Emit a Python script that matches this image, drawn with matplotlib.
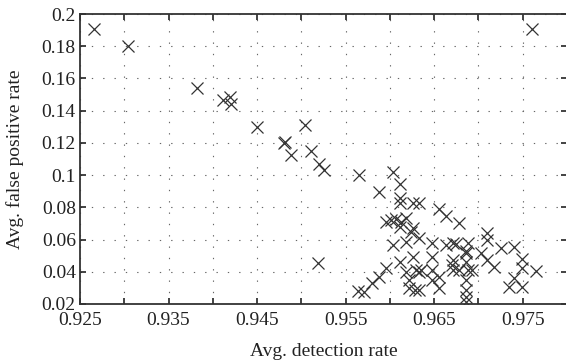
import numpy as np
import matplotlib
matplotlib.use("Agg")
import matplotlib.pyplot as plt
from matplotlib.ticker import FixedLocator, FixedFormatter

plt.rcParams["font.family"] = ["Liberation Serif", "DejaVu Serif"]

# avg. detection rate / avg. false positive rate
det_rate = [
    0.9266, 0.9304, 0.9382, 0.9412, 0.9419, 0.9420, 0.9450, 0.9480, 0.9481,
    0.9488, 0.9504, 0.9511, 0.9520, 0.9526, 0.9565, 0.9760, 0.9603, 0.9611,
    0.9588, 0.9611, 0.9611, 0.9626, 0.9633, 0.9596, 0.9601, 0.9607, 0.9613,
    0.9618, 0.9611, 0.9626, 0.9656, 0.9663, 0.9678, 0.9624, 0.9618, 0.9633,
    0.9603, 0.9648, 0.9663, 0.9671, 0.9675, 0.9688, 0.9710, 0.9710, 0.9725,
    0.9740, 0.9611, 0.9626, 0.9648, 0.9671, 0.9686, 0.9686, 0.9686, 0.9703,
    0.9710, 0.9718, 0.9749, 0.9749, 0.9765, 0.9740, 0.9735, 0.9749, 0.9519,
    0.9596, 0.9588, 0.9580, 0.9571, 0.9564, 0.9618, 0.9629, 0.9633, 0.9622,
    0.9622, 0.9628, 0.9633, 0.9635, 0.9648, 0.9656, 0.9648, 0.9656, 0.9671,
    0.9678, 0.9688, 0.9693, 0.9686, 0.9686, 0.9686, 0.9686, 0.9670,
]
fp_rate = [
    0.1905, 0.1803, 0.1539, 0.1466, 0.1487, 0.1440, 0.1300, 0.1200, 0.1203,
    0.1122, 0.1308, 0.1148, 0.1070, 0.1030, 0.1000, 0.1905, 0.1017, 0.0943,
    0.0897, 0.0856, 0.0829, 0.0825, 0.0825, 0.0711, 0.0721, 0.0725, 0.0711,
    0.0732, 0.0680, 0.0672, 0.0788, 0.0747, 0.0703, 0.0649, 0.0587, 0.0608,
    0.0566, 0.0580, 0.0566, 0.0577, 0.0570, 0.0577, 0.0639, 0.0597, 0.0546,
    0.0556, 0.0463, 0.0493, 0.0494, 0.0473, 0.0514, 0.0463, 0.0530, 0.0514,
    0.0473, 0.0432, 0.0478, 0.0421, 0.0405, 0.0359, 0.0307, 0.0303, 0.0453,
    0.0421, 0.0369, 0.0328, 0.0276, 0.0281, 0.0400, 0.0411, 0.0400, 0.0349,
    0.0297, 0.0287, 0.0287, 0.0411, 0.0411, 0.0369, 0.0349, 0.0297, 0.0411,
    0.0411, 0.0411, 0.0411, 0.0349, 0.0287, 0.0245, 0.0214, 0.0444,
]

x_ticks = np.round(np.arange(0.925, 0.9801, 0.005), 3)
x_labels = ["%.3f" % v if i % 2 == 0 else "" for i, v in enumerate(x_ticks)]
y_ticks = np.round(np.arange(0.02, 0.2001, 0.02), 2)
y_labels = ["%g" % v for v in y_ticks]

fig = plt.figure(figsize=(5.66, 3.62), dpi=100)
ax = fig.add_axes([80 / 566, 58 / 362, 487 / 566, 290 / 362])

ax.plot(det_rate, fp_rate, linestyle="none", marker="x", markersize=8,
        markeredgewidth=0.9, color="#333333")

ax.set_xlim(0.925, 0.98)
ax.set_ylim(0.02, 0.2)
ax.xaxis.set_major_locator(FixedLocator(x_ticks))
ax.xaxis.set_major_formatter(FixedFormatter(x_labels))
ax.yaxis.set_major_locator(FixedLocator(y_ticks))
ax.yaxis.set_major_formatter(FixedFormatter(y_labels))

ax.grid(True, color="#666666", linewidth=0.8, linestyle=(0, (1.2, 9)))
ax.tick_params(direction="in", length=4.5, width=1.2, top=True, right=True,
               labelsize=14, colors="#222222")
ax.tick_params(axis="x", pad=6)
ax.tick_params(axis="y", pad=3)
for s in ax.spines.values():
    s.set_linewidth(1.3)
    s.set_color("#333333")

ax.set_xlabel("Avg. detection rate", fontsize=14, color="#222222", labelpad=10)
ax.set_ylabel("Avg. false positive rate", fontsize=14, color="#222222", labelpad=13)

fig.savefig("out.png", dpi=100)
